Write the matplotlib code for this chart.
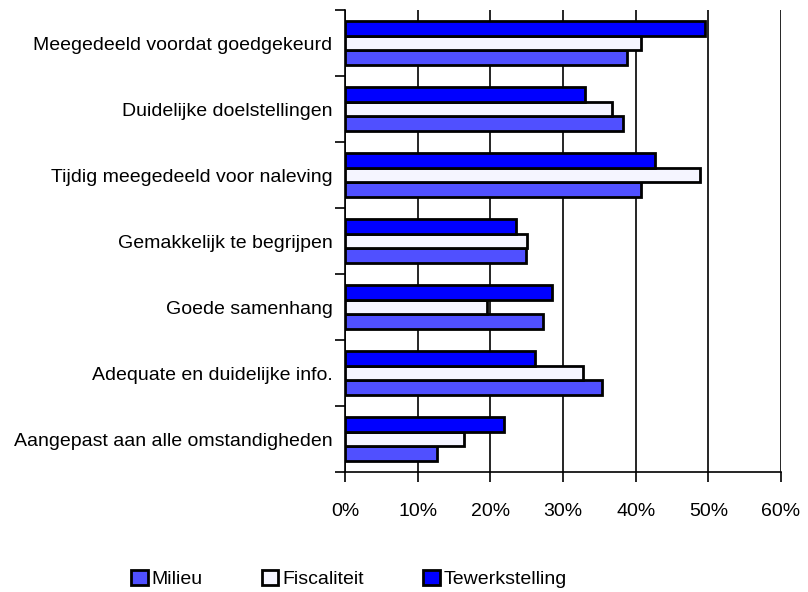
import numpy as np
import matplotlib
matplotlib.use('Agg')
import matplotlib.pyplot as plt
from matplotlib.ticker import FuncFormatter

plt.rcParams['font.family'] = ['Liberation Sans', 'DejaVu Sans']

categories = [
    'Meegedeeld voordat goedgekeurd',
    'Duidelijke doelstellingen',
    'Tijdig meegedeeld voor naleving',
    'Gemakkelijk te begrijpen',
    'Goede samenhang',
    'Adequate en duidelijke info.',
    'Aangepast aan alle omstandigheden',
]
milieu = [38.8, 38.2, 40.8, 24.9, 27.3, 35.3, 12.6]
fiscaliteit = [40.7, 36.7, 48.8, 25.1, 19.6, 32.8, 16.4]
tewerkstelling = [49.5, 33.0, 42.7, 23.6, 28.5, 26.2, 21.9]

series = [
    ('Milieu', milieu, '#5050FF', -1),
    ('Fiscaliteit', fiscaliteit, '#F5F5FF', 0),
    ('Tewerkstelling', tewerkstelling, '#0000FF', 1),
]

fig = plt.figure(figsize=(8.08, 5.92), dpi=100)
ax = fig.add_axes([345 / 808, 1 - 472 / 592, 436 / 808, 462 / 592])

n = len(categories)
ypos = np.arange(n)[::-1].astype(float)
h = 0.223

for name, vals, color, off in series:
    ax.barh(ypos + off * h, vals, height=h, color=color, edgecolor='black',
            linewidth=2.0, label=name, zorder=3)

ax.set_xlim(0, 60)
ax.set_ylim(-0.5, n - 0.5)
ax.set_xticks(np.arange(0, 61, 10))
ax.xaxis.set_major_formatter(FuncFormatter(lambda v, p: f'{v:.0f}%'))
# category boundaries carry the ticks, labels sit between them
ax.set_yticks(np.arange(-0.5, n, 1.0))
ax.set_yticklabels([])
ax.set_yticks(ypos, labels=categories, minor=True)
ax.tick_params(axis='y', which='minor', length=0, pad=9, labelsize=14)
ax.tick_params(axis='y', which='major', length=7, width=1.2, direction='out')
ax.tick_params(axis='x', length=7, width=1.2, direction='out', pad=15, labelsize=14)
ax.grid(axis='x', color='black', linewidth=1.2, zorder=0)
for s in ('top', 'right'):
    ax.spines[s].set_visible(False)
for s in ('left', 'bottom'):
    ax.spines[s].set_linewidth(1.2)

handles, labels = ax.get_legend_handles_labels()
fig.legend(handles, labels, loc='center left', bbox_to_anchor=(131 / 808, 1 - 579 / 592),
           ncol=3, frameon=False, fontsize=14, handlelength=0.85, handleheight=0.85,
           handletextpad=0.2, columnspacing=3.05, borderpad=0, borderaxespad=0)

fig.savefig('out.png', dpi=100)
